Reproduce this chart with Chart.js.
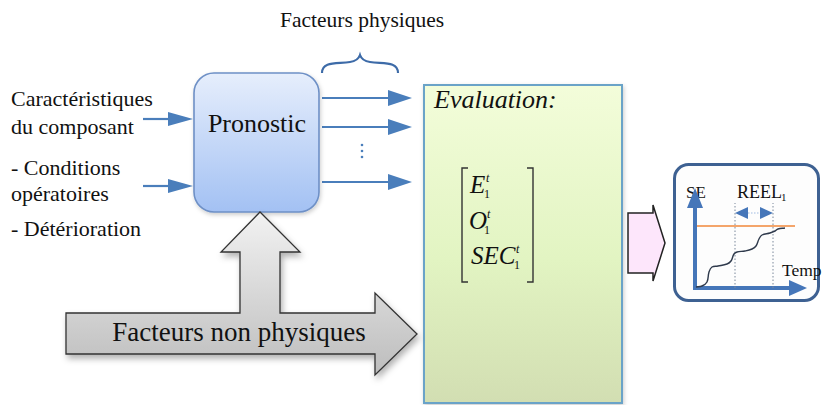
<!DOCTYPE html>
<html>
<head>
<meta charset="utf-8">
<script src="https://cdn.jsdelivr.net/npm/chart.js@4.4.0/dist/chart.umd.min.js"></script>
<style>
  html, body { margin: 0; padding: 0; background: #fff; }
  #wrap { position: relative; width: 824px; height: 405px; overflow: hidden; }
  #diagram { position: absolute; left: 0; top: 0; }
  #mini { position: absolute; left: 673px; top: 163px; }
  svg text { font-family: "Liberation Serif", "Times New Roman", Times, serif; fill: #111; }
</style>
</head>
<body>
<div id="wrap">
<svg id="diagram" width="824" height="405" viewBox="0 0 824 405" font-family="'Liberation Serif', 'Times New Roman', Times, serif">
  <defs>
    <linearGradient id="gBlue" x1="0" y1="0" x2="0" y2="1">
      <stop offset="0" stop-color="#e6eefc"/>
      <stop offset="1" stop-color="#a3c1f3"/>
    </linearGradient>
    <linearGradient id="gGreen" x1="0" y1="0" x2="0" y2="1">
      <stop offset="0" stop-color="#f3fdda"/>
      <stop offset="0.55" stop-color="#e2f4c2"/>
      <stop offset="1" stop-color="#d2deb2"/>
    </linearGradient>
    <linearGradient id="gGray" x1="0" y1="0" x2="0" y2="1">
      <stop offset="0" stop-color="#f2f2f2"/>
      <stop offset="1" stop-color="#bdbdbd"/>
    </linearGradient>
    <filter id="shadow" x="-10%" y="-10%" width="130%" height="140%">
      <feDropShadow dx="2" dy="4" stdDeviation="3" flood-color="#000" flood-opacity="0.3"/>
    </filter>
    <filter id="soft" x="-10%" y="-10%" width="130%" height="130%">
      <feDropShadow dx="1" dy="2" stdDeviation="2" flood-color="#000" flood-opacity="0.2"/>
    </filter>
  </defs>

  <!-- titre haut -->
  <text x="280" y="27" font-size="21.5">Facteurs physiques</text>
  <path d="M322,73 C322,61 337,64 350,62 C357,61 359,58 360,55 C361,58 363,61 370,62 C383,64 398,61 398,73"
        fill="none" stroke="#3d6ba8" stroke-width="2.2"/>

  <!-- entrées gauche -->
  <text x="11" y="106" font-size="22">Caractéristiques</text>
  <text x="11" y="134" font-size="22">du composant</text>
  <text x="11" y="175" font-size="22">- Conditions</text>
  <text x="11" y="201" font-size="22">opératoires</text>
  <text x="11" y="236" font-size="22">- Détérioration</text>

  <g stroke="#4a7ebb" stroke-width="2.2" fill="#4a7ebb">
    <line x1="143" y1="119" x2="170" y2="119"/>
    <polygon points="168,112 193,119 168,126" stroke="none"/>
    <line x1="143" y1="186" x2="170" y2="186"/>
    <polygon points="168,179 193,186 168,193" stroke="none"/>

    <line x1="322" y1="98" x2="390" y2="98"/>
    <polygon points="388,90 412,98 388,106" stroke="none"/>
    <line x1="322" y1="127" x2="390" y2="127"/>
    <polygon points="388,119 412,127 388,135" stroke="none"/>
    <line x1="322" y1="182" x2="390" y2="182"/>
    <polygon points="388,174 412,182 388,190" stroke="none"/>
  </g>
  <g fill="#4a7ebb">
    <circle cx="362" cy="145" r="1.3"/>
    <circle cx="362" cy="151" r="1.3"/>
    <circle cx="362" cy="157" r="1.3"/>
  </g>

  <!-- Pronostic -->
  <rect x="194" y="73" width="125" height="139" rx="20" ry="20"
        fill="url(#gBlue)" stroke="#6e90c6" stroke-width="1.6" filter="url(#soft)"/>
  <text x="257" y="132" font-size="26" text-anchor="middle">Pronostic</text>

  <!-- Evaluation -->
  <rect x="424" y="85" width="198" height="318" fill="url(#gGreen)" stroke="#6aa3c8" stroke-width="2" filter="url(#soft)"/>
  <text x="434" y="108" font-size="26" font-style="italic">Evaluation:</text>

  <g fill="none" stroke="#333" stroke-width="1.4">
    <polyline points="468,168 462,168 462,282 468,282"/>
    <polyline points="527,168 533,168 533,282 527,282"/>
  </g>
  <text x="470" y="193" font-size="25" font-style="italic">E</text>
  <text x="486" y="182" font-size="12" font-style="italic">t</text>
  <text x="484" y="198" font-size="12">1</text>
  <text x="469" y="229" font-size="25" font-style="italic">O</text>
  <text x="487" y="218" font-size="12" font-style="italic">t</text>
  <text x="484" y="234" font-size="12">1</text>
  <text x="471" y="264" font-size="25" font-style="italic">SEC</text>
  <text x="516" y="253" font-size="12" font-style="italic">t</text>
  <text x="514" y="269" font-size="12">1</text>

  <!-- flèche rose -->
  <polygon points="628,213 653,213 653,205 665,243 653,281 653,273 628,273"
           fill="#fde6fb" stroke="#222" stroke-width="1.5"/>

  <!-- cadre du petit graphe -->
  <rect x="674.5" y="164.5" width="144" height="136" rx="14" ry="14"
        fill="#fdfdfd" stroke="#3e6192" stroke-width="3"/>
  <text x="686" y="198" font-size="17">SE</text>
  <text x="737" y="198" font-size="18">REEL</text>
  <text x="781" y="201" font-size="11">1</text>
  <text x="782" y="276" font-size="17.5">Temp</text>

  <!-- facteurs non physiques -->
  <polygon points="66,313 240,313 240,252 221,252 260,212 300,252 280,252 280,313 375,313 375,293 417,334 375,375 375,354 66,354"
           fill="url(#gGray)" stroke="#333" stroke-width="1.3" filter="url(#shadow)"/>
  <text x="239" y="341" font-size="27" text-anchor="middle">Facteurs non physiques</text>
</svg>
<canvas id="mini" width="147" height="139"></canvas>
</div>

<script>
// petit graphe : SE en fonction du temps
const temps = [1, 7, 12, 14, 17, 23, 32, 36, 39, 42, 50, 57, 61, 64, 67, 75, 80, 83, 90];
const seValeurs = [1, 2, 6, 16, 21, 22, 24, 27, 34, 36, 37, 39, 42, 49, 53, 55, 57, 59, 60];
const seuil = 62;
const seuilDebut = 2;
const seuilFin = 100;
const reel = [40, 78];       // bornes REEL1 (temps)
const reelHaut = 85;         // hauteur des pointillés
const reelFleche = 75;       // niveau de la double flèche

const bleuAxe = '#4576b9';

function tri(ctx, pts, color) {
  ctx.beginPath();
  ctx.moveTo(pts[0][0], pts[0][1]);
  ctx.lineTo(pts[1][0], pts[1][1]);
  ctx.lineTo(pts[2][0], pts[2][1]);
  ctx.closePath();
  ctx.fillStyle = color;
  ctx.fill();
}

const axesFleches = {
  id: 'axesFleches',
  beforeDatasetsDraw(chart) {
    const ctx = chart.ctx;
    const xs = chart.scales.x, ys = chart.scales.y;
    const x0 = xs.getPixelForValue(0), y0 = ys.getPixelForValue(0);
    const xEnd = xs.getPixelForValue(xs.max), yEnd = ys.getPixelForValue(ys.max);
    ctx.save();
    ctx.strokeStyle = bleuAxe;
    ctx.lineWidth = 4;
    ctx.beginPath();
    ctx.moveTo(x0, y0 + 2);
    ctx.lineTo(x0, yEnd + 18);
    ctx.moveTo(x0 - 2, y0);
    ctx.lineTo(xEnd - 16, y0);
    ctx.stroke();
    tri(ctx, [[x0 - 8, yEnd + 20], [x0, yEnd], [x0 + 8, yEnd + 20]], bleuAxe);
    tri(ctx, [[xEnd - 18, y0 - 8], [xEnd, y0], [xEnd - 18, y0 + 8]], bleuAxe);

    // double flèche REEL1
    const a = xs.getPixelForValue(reel[0]), b = xs.getPixelForValue(reel[1]);
    const yf = ys.getPixelForValue(reelFleche);
    tri(ctx, [[a + 13, yf - 6], [a, yf], [a + 13, yf + 6]], bleuAxe);
    tri(ctx, [[b - 13, yf - 6], [b, yf], [b - 13, yf + 6]], bleuAxe);
    ctx.strokeStyle = '#9fbbe2';
    ctx.lineWidth = 1;
    ctx.setLineDash([1.5, 1.5]);
    ctx.beginPath();
    ctx.moveTo(a + 13, yf);
    ctx.lineTo(b - 13, yf);
    ctx.stroke();
    ctx.restore();
  }
};

new Chart(document.getElementById('mini'), {
  type: 'scatter',
  data: {
    datasets: [
      {
        data: temps.map((t, i) => ({ x: t, y: seValeurs[i] })),
        showLine: true,
        borderColor: '#2f3a4c',
        borderWidth: 1.4,
        tension: 0.4,
        pointRadius: 0,
        clip: false
      },
      {
        data: [{ x: seuilDebut, y: seuil }, { x: seuilFin, y: seuil }],
        showLine: true,
        borderColor: '#f0873a',
        borderWidth: 1.6,
        pointRadius: 0,
        clip: false
      },
      {
        data: [{ x: reel[0], y: 0 }, { x: reel[0], y: reelHaut }],
        showLine: true,
        borderColor: '#7b889b',
        borderWidth: 1,
        borderDash: [1.5, 2],
        pointRadius: 0,
        clip: false
      },
      {
        data: [{ x: reel[1], y: 0 }, { x: reel[1], y: reelHaut }],
        showLine: true,
        borderColor: '#7b889b',
        borderWidth: 1,
        borderDash: [1.5, 2],
        pointRadius: 0,
        clip: false
      }
    ]
  },
  options: {
    responsive: false,
    animation: false,
    layout: { padding: { left: 22, right: 13, top: 25, bottom: 14 } },
    scales: {
      x: { type: 'linear', min: 0, max: 112, display: false },
      y: { type: 'linear', min: 0, max: 100, display: false }
    },
    plugins: { legend: { display: false }, tooltip: { enabled: false } }
  },
  plugins: [axesFleches]
});
</script>
</body>
</html>
